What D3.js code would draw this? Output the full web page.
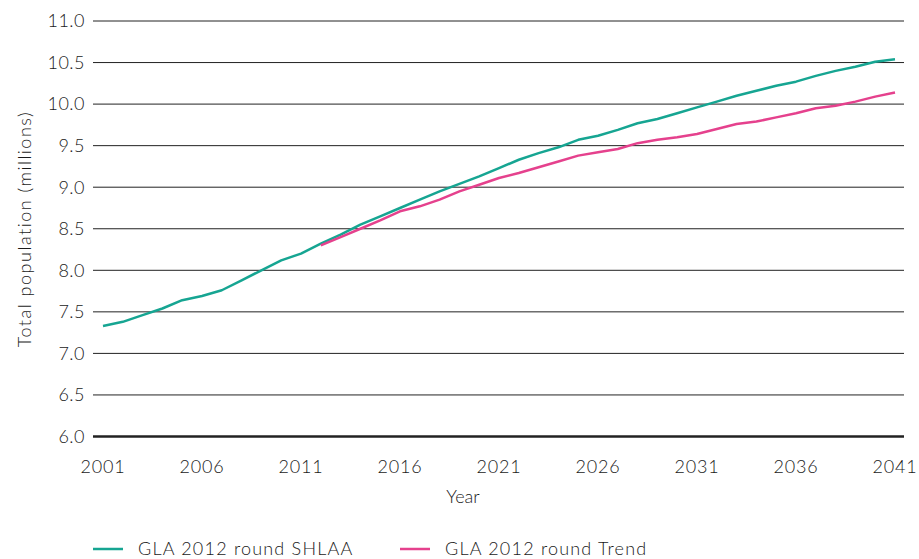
<!DOCTYPE html>
<meta charset="utf-8">
<style>
body { margin: 0; background: #fff; }
text { font-family: "Lato", "Open Sans", sans-serif; font-weight: 300; fill: #1a1a1a; }
.grid line { stroke: #222; stroke-width: 1px; }
.line { fill: none; stroke-width: 2.5px; stroke-linejoin: round; }
</style>
<svg width="919" height="559"></svg>
<script src="https://cdn.jsdelivr.net/npm/d3@7"></script>
<script>

let years = d3.range(2001, 2042);

// GLA 2012 round SHLAA, 2001-2041 (millions)
let shlaa = [7.33, 7.38, 7.46, 7.54, 7.64, 7.69, 7.76, 7.88, 8.00, 8.12,
             8.20, 8.32, 8.43, 8.55, 8.65, 8.75, 8.85, 8.95, 9.04, 9.13,
             9.23, 9.33, 9.41, 9.48, 9.57, 9.62, 9.69, 9.77, 9.82, 9.89,
             9.96, 10.03, 10.10, 10.16, 10.22, 10.27, 10.34, 10.40, 10.45, 10.51,
             10.54];

// GLA 2012 round Trend, 2012-2041 (millions)
let trendYears = d3.range(2012, 2042);
let trend = [8.30, 8.40, 8.50, 8.60, 8.71, 8.77, 8.85, 8.95, 9.03, 9.11,
             9.17, 9.24, 9.31, 9.38, 9.42, 9.46, 9.53, 9.57, 9.60, 9.64,
             9.70, 9.76, 9.79, 9.84, 9.89, 9.95, 9.98, 10.03, 10.09, 10.14];

let yTicks = [6.0, 6.5, 7.0, 7.5, 8.0, 8.5, 9.0, 9.5, 10.0, 10.5, 11.0];
let xTicks = [2001, 2006, 2011, 2016, 2021, 2026, 2031, 2036, 2041];

let series = [
    {name: "GLA 2012 round SHLAA", color: "#16a592", years: years, values: shlaa},
    {name: "GLA 2012 round Trend", color: "#e5418d", years: trendYears, values: trend}
];

let svg = d3.select("svg");

let x = d3.scaleLinear().domain([2001, 2041]).range([103, 895]);
let y = d3.scaleLinear().domain([6, 11]).range([436.5, 21]);
let gridLeft = 93, gridRight = 904;

// gridlines
let grid = svg.append("g").attr("class", "grid");
grid.selectAll("line")
    .data(yTicks)
    .enter().append("line")
    .attr("x1", gridLeft)
    .attr("x2", gridRight)
    .attr("y1", d => y(d))
    .attr("y2", d => y(d))
    .style("stroke-width", d => d === 6 ? 2.5 : 1);

// y tick labels
svg.append("g").selectAll("text")
    .data(yTicks)
    .enter().append("text")
    .attr("x", 85)
    .attr("y", d => y(d))
    .attr("dy", "0.35em")
    .attr("text-anchor", "end")
    .style("font-size", "18px")
    .style("letter-spacing", "0.5px")
    .text(d => d3.format(".1f")(d));

// x tick labels
svg.append("g").selectAll("text")
    .data(xTicks)
    .enter().append("text")
    .attr("x", d => x(d))
    .attr("y", 467)
    .attr("dy", "0.35em")
    .attr("text-anchor", "middle")
    .style("font-size", "18px")
    .style("letter-spacing", "0.8px")
    .text(d => d);

// axis titles
svg.append("text")
    .attr("x", 463)
    .attr("y", 497)
    .attr("dy", "0.35em")
    .attr("text-anchor", "middle")
    .style("font-size", "18px")
    .text("Year");

svg.append("text")
    .attr("transform", "translate(25,229) rotate(-90)")
    .attr("dy", "0.35em")
    .attr("text-anchor", "middle")
    .style("font-size", "18px")
    .style("letter-spacing", "1.5px")
    .text("Total population (millions)");

// lines
let line = d3.line()
    .x(d => x(d[0]))
    .y(d => y(d[1]));

svg.append("g").selectAll("path")
    .data(series)
    .enter().append("path")
    .attr("class", "line")
    .style("stroke", d => d.color)
    .attr("d", d => line(d.years.map((yr, i) => [yr, d.values[i]])));

// legend
let legendX = [93, 400];
let legend = svg.append("g").selectAll("g")
    .data(series)
    .enter().append("g")
    .attr("transform", (d, i) => "translate(" + legendX[i] + ",549)");

legend.append("line")
    .attr("x1", 0)
    .attr("x2", 30)
    .style("stroke", d => d.color)
    .style("stroke-width", 2.5);

legend.append("text")
    .attr("x", 45)
    .attr("dy", "0.35em")
    .style("font-size", "18px")
    .style("letter-spacing", "1.2px")
    .text(d => d.name);

</script>
